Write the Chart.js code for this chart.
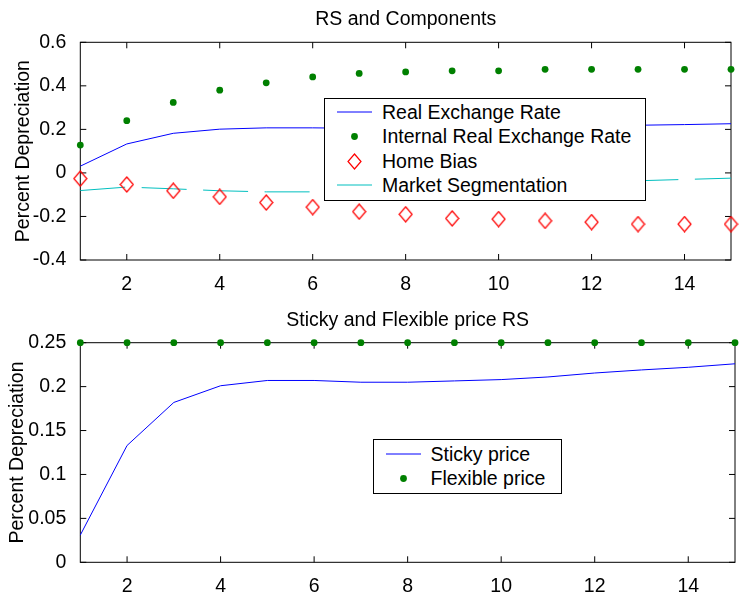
<!DOCTYPE html>
<html>
<head>
<meta charset="utf-8">
<script src="https://cdn.jsdelivr.net/npm/chart.js@4.4.1/dist/chart.umd.min.js"></script>
<style>
  body { margin: 0; background: #fff; width: 739px; height: 592px; overflow: hidden; position: relative;
         font-family: Arial, "Liberation Sans", sans-serif; }
  canvas { position: absolute; left: 0; }
  #topChart { top: 0; }
  #bottomChart { top: 300px; }
  .legend { position: absolute; border: 1.5px solid #000; background: #fff; box-sizing: border-box; }
  .legend .row { position: absolute; left: 0; right: 0; height: 24px; }
  .legend .row svg { position: absolute; left: 10px; top: 0; }
  .legend .row span { position: absolute; left: 57px; top: 0; line-height: 24px; font-size: 19.5px; color: #000; white-space: nowrap; }
</style>
</head>
<body>
<canvas id="topChart" width="739" height="300"></canvas>
<canvas id="bottomChart" width="739" height="292"></canvas>
<div class="legend" id="topLegend" style="left:324px; top:97.5px; width:322px; height:103.5px;"></div>
<div class="legend" id="bottomLegend" style="left:372.5px; top:438.5px; width:189px; height:55.5px;"></div>

<script>
// 資料：期數與各序列
const periods = [1, 2, 3, 4, 5, 6, 7, 8, 9, 10, 11, 12, 13, 14, 15];

const realExchangeRate = [0.031, 0.133, 0.182, 0.201, 0.207, 0.207, 0.205, 0.205, 0.2065, 0.208, 0.211, 0.2155, 0.219, 0.222, 0.226];
const internalRER      = [0.128, 0.240, 0.324, 0.380, 0.414, 0.441, 0.457, 0.464, 0.469, 0.469, 0.476, 0.476, 0.476, 0.476, 0.476];
const homeBias         = [-0.026, -0.053, -0.082, -0.110, -0.136, -0.157, -0.178, -0.190, -0.209, -0.212, -0.220, -0.226, -0.235, -0.235, -0.235];
const marketSeg        = [-0.081, -0.065, -0.073, -0.082, -0.087, -0.087, -0.083, -0.078, -0.068, -0.060, -0.050, -0.042, -0.036, -0.030, -0.024];

const stickyPrice   = realExchangeRate;
const flexiblePrice = [0.25, 0.25, 0.25, 0.25, 0.25, 0.25, 0.25, 0.25, 0.25, 0.25, 0.25, 0.25, 0.25, 0.25, 0.25];

// 刻度
const xTicks       = [2, 4, 6, 8, 10, 12, 14];
const topYTicks    = [-0.4, -0.2, 0, 0.2, 0.4, 0.6];
const bottomYTicks = [0, 0.05, 0.1, 0.15, 0.2, 0.25];

const topTitle    = 'RS and Components';
const bottomTitle = 'Sticky and Flexible price RS';
const yTitle      = 'Percent Depreciation';

const FONT = 'Arial, "Liberation Sans", sans-serif';
const FS = 19.5;
const BLUE = '#0000ff', GREEN = '#008000', RED = '#ff0000', CYAN = '#00bfbf';

const toXY = arr => arr.map((v, i) => ({ x: periods[i], y: v }));

// 紅色菱形 marker (略高於寬)
function makeDiamond(w, h) {
    const c = document.createElement('canvas');
    c.width = w + 2; c.height = h + 2;
    const g = c.getContext('2d');
    g.strokeStyle = RED; g.lineWidth = 1.2;
    g.beginPath();
    g.moveTo(c.width / 2, 1);
    g.lineTo(w + 1, c.height / 2);
    g.lineTo(c.width / 2, h + 1);
    g.lineTo(1, c.height / 2);
    g.closePath();
    g.stroke();
    return c;
}
const diamond = makeDiamond(13, 15);

// MATLAB 風格的外框 + 向內刻度 + 標題
const matlabBox = {
    id: 'matlabBox',
    beforeDatasetsDraw(chart) {
        const { ctx, chartArea: a, scales } = chart;
        ctx.save();
        ctx.strokeStyle = '#000';
        ctx.lineWidth = 1;
        ctx.strokeRect(a.left, a.top, a.right - a.left, a.bottom - a.top);
        ctx.beginPath();
        scales.x.ticks.forEach(t => {
            const px = scales.x.getPixelForValue(t.value);
            ctx.moveTo(px, a.bottom); ctx.lineTo(px, a.bottom - 6);
            ctx.moveTo(px, a.top);    ctx.lineTo(px, a.top + 6);
        });
        scales.y.ticks.forEach(t => {
            const py = scales.y.getPixelForValue(t.value);
            ctx.moveTo(a.left, py);  ctx.lineTo(a.left + 6, py);
            ctx.moveTo(a.right, py); ctx.lineTo(a.right - 6, py);
        });
        ctx.stroke();
        ctx.restore();
    },
    afterDraw(chart, args, opts) {
        const { ctx, chartArea: a } = chart;
        ctx.save();
        ctx.fillStyle = '#000';
        ctx.font = FS + 'px ' + FONT;
        ctx.textAlign = 'center';
        ctx.textBaseline = 'middle';
        ctx.fillText(opts.text, (a.left + a.right) / 2, opts.y);
        ctx.restore();
    }
};

function makeScales(yTickValues, yMin, yMax, xHeight, titlePad) {
    return {
        x: {
            type: 'linear', min: 1, max: 15,
            grid: { display: false }, border: { display: false },
            afterBuildTicks: s => { s.ticks = xTicks.map(v => ({ value: v })); },
            afterFit: s => { s.height = xHeight; },
            ticks: { color: '#000', font: { size: FS, family: FONT }, padding: 5, maxRotation: 0, autoSkip: false }
        },
        y: {
            type: 'linear', min: yMin, max: yMax,
            grid: { display: false }, border: { display: false },
            afterBuildTicks: s => { s.ticks = yTickValues.map(v => ({ value: v })); },
            afterFit: s => { s.width = 80.3; },
            ticks: { color: '#000', font: { size: FS, family: FONT }, padding: 6,
                     callback: v => String(Math.round(v * 100) / 100) },
            title: { display: true, text: yTitle, color: '#000', font: { size: FS, family: FONT }, padding: { top: titlePad, bottom: 0 } }
        }
    };
}

const common = {
    responsive: false,
    animation: false,
    events: [],
    plugins: { legend: { display: false }, tooltip: { enabled: false } }
};

new Chart(document.getElementById('topChart'), {
    type: 'line',
    data: {
        datasets: [
            { label: 'Real Exchange Rate', data: toXY(realExchangeRate), borderColor: BLUE, borderWidth: 1,
              pointRadius: 0, fill: false, clip: false },
            { label: 'Internal Real Exchange Rate', data: toXY(internalRER), showLine: false,
              pointStyle: 'circle', pointRadius: 3.4, pointBackgroundColor: GREEN, pointBorderColor: GREEN, pointBorderWidth: 0, clip: false },
            { label: 'Home Bias', data: toXY(homeBias), showLine: false,
              pointStyle: diamond, pointRadius: 7, clip: false },
            { label: 'Market Segmentation', data: toXY(marketSeg), borderColor: CYAN, borderWidth: 1,
              borderDash: [45, 16.5], pointRadius: 0, fill: false, clip: false }
        ]
    },
    options: Object.assign({}, common, {
        layout: { padding: { top: 42.3, right: 0.7, left: 0, bottom: 0 } },
        scales: makeScales(topYTicks, -0.4, 0.6, 40, 11.5),
        plugins: Object.assign({}, common.plugins, { matlabBox: { text: topTitle, y: 19.5 } })
    }),
    plugins: [matlabBox]
});

new Chart(document.getElementById('bottomChart'), {
    type: 'line',
    data: {
        datasets: [
            { label: 'Sticky price', data: toXY(stickyPrice), borderColor: BLUE, borderWidth: 1,
              pointRadius: 0, fill: false, clip: false },
            { label: 'Flexible price', data: toXY(flexiblePrice), showLine: false,
              pointStyle: 'circle', pointRadius: 3.4, pointBackgroundColor: GREEN, pointBorderColor: GREEN, pointBorderWidth: 0, clip: false }
        ]
    },
    options: Object.assign({}, common, {
        layout: { padding: { top: 42.7, right: 0.7, left: 0, bottom: 0 } },
        scales: makeScales(bottomYTicks, 0, 0.25, 29.7, 5.5),
        plugins: Object.assign({}, common.plugins, { matlabBox: { text: bottomTitle, y: 20.5 } })
    }),
    plugins: [matlabBox]
});

// HTML 圖例
const SYMBOLS = {
    line:    c => `<line x1="2" y1="12" x2="37" y2="12" stroke="${c}" stroke-width="1"/>`,
    dot:     c => `<circle cx="19.5" cy="12.5" r="3.4" fill="${c}"/>`,
    diamond: c => `<polygon points="19.5,5 26,12.5 19.5,20 13,12.5" fill="none" stroke="${c}" stroke-width="1.2"/>`
};

function buildLegend(id, items, firstCenter, step) {
    const box = document.getElementById(id);
    items.forEach((it, i) => {
        const row = document.createElement('div');
        row.className = 'row';
        row.style.top = (firstCenter + i * step - 12) + 'px';
        row.innerHTML = `<svg width="40" height="24">${SYMBOLS[it.sym](it.color)}</svg><span>${it.label}</span>`;
        box.appendChild(row);
    });
}

buildLegend('topLegend', [
    { label: 'Real Exchange Rate', sym: 'line', color: BLUE },
    { label: 'Internal Real Exchange Rate', sym: 'dot', color: GREEN },
    { label: 'Home Bias', sym: 'diamond', color: RED },
    { label: 'Market Segmentation', sym: 'line', color: CYAN }
], 13.5, 24.4);

buildLegend('bottomLegend', [
    { label: 'Sticky price', sym: 'line', color: BLUE },
    { label: 'Flexible price', sym: 'dot', color: GREEN }
], 14, 24);
</script>
</body>
</html>
